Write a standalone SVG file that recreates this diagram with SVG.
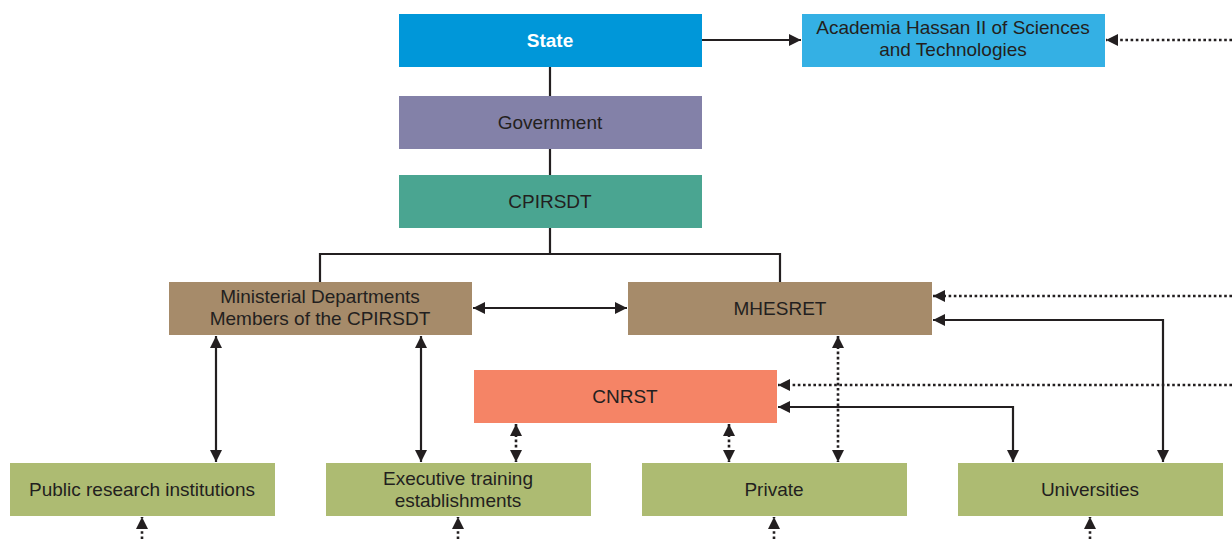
<svg xmlns="http://www.w3.org/2000/svg" width="1232" height="539" viewBox="0 0 1232 539">
<style>
text{font-family:"Liberation Sans",Arial,sans-serif;font-size:19px;fill:#231f20;text-anchor:middle}
.b{font-weight:bold;fill:#fff;font-size:19px}
.s{stroke:#231f20;stroke-width:2.2;fill:none}
.d{stroke:#231f20;stroke-width:2.6;fill:none;stroke-dasharray:2.6 2.6}
</style>
<defs>
<marker id="a" viewBox="0 0 10 10" refX="10" refY="5" markerWidth="12" markerHeight="12" markerUnits="userSpaceOnUse" orient="auto-start-reverse"><path d="M0,0L10,5L0,10z" fill="#231f20"/></marker>
</defs>
<rect width="1232" height="539" fill="#fff"/>
<g id="connectors">
<path class="s" d="M702,40H801" marker-end="url(#a)"/>
<path class="d" d="M1232,40H1106" marker-end="url(#a)"/>
<path class="s" d="M550,67V96M550,149V175M550,228V254M320,282V254H780V282"/>
<path class="s" d="M473,308H627" marker-start="url(#a)" marker-end="url(#a)"/>
<path class="s" d="M216,336V462" marker-start="url(#a)" marker-end="url(#a)"/>
<path class="s" d="M421,336V462" marker-start="url(#a)" marker-end="url(#a)"/>
<path class="d" d="M1232,296H933" marker-end="url(#a)"/>
<path class="s" d="M1163,462V320H933" marker-start="url(#a)" marker-end="url(#a)"/>
<path class="d" d="M1232,385H778" marker-end="url(#a)"/>
<path class="s" d="M1013,462V407H778" marker-start="url(#a)" marker-end="url(#a)"/>
<path class="d" d="M838,336V462" marker-start="url(#a)" marker-end="url(#a)"/>
<path class="d" d="M516,424V462" marker-start="url(#a)" marker-end="url(#a)"/>
<path class="d" d="M729,424V462" marker-start="url(#a)" marker-end="url(#a)"/>
<path class="d" d="M142,539V517" marker-end="url(#a)"/>
<path class="d" d="M458,539V517" marker-end="url(#a)"/>
<path class="d" d="M774,539V517" marker-end="url(#a)"/>
<path class="d" d="M1090,539V517" marker-end="url(#a)"/>
</g>
<g id="state"><rect x="399" y="14" width="303" height="53" fill="#0097d9"/><text class="b" x="550" y="47">State</text></g>
<g id="academia"><rect x="802" y="14" width="303" height="53" fill="#34b0e4"/><text x="953" y="34">Academia Hassan II of Sciences</text><text x="953" y="56">and Technologies</text></g>
<g id="government"><rect x="399" y="96" width="303" height="53" fill="#8381a8"/><text x="550" y="129">Government</text></g>
<g id="cpirsdt"><rect x="399" y="175" width="303" height="53" fill="#4aa591"/><text x="550" y="208">CPIRSDT</text></g>
<g id="ministerial"><rect x="169" y="282" width="303" height="53" fill="#a68b6a"/><text x="320" y="303">Ministerial Departments</text><text x="320" y="325">Members of the CPIRSDT</text></g>
<g id="mhesret"><rect x="628" y="282" width="304" height="53" fill="#a68b6a"/><text x="780" y="315">MHESRET</text></g>
<g id="cnrst"><rect x="474" y="370" width="303" height="53" fill="#f58466"/><text x="625" y="403">CNRST</text></g>
<g id="public"><rect x="10" y="463" width="265" height="53" fill="#adbb72"/><text x="142" y="496">Public research institutions</text></g>
<g id="executive"><rect x="326" y="463" width="265" height="53" fill="#adbb72"/><text x="458" y="485">Executive training</text><text x="458" y="507">establishments</text></g>
<g id="private"><rect x="642" y="463" width="265" height="53" fill="#adbb72"/><text x="774" y="496">Private</text></g>
<g id="universities"><rect x="958" y="463" width="265" height="53" fill="#adbb72"/><text x="1090" y="496">Universities</text></g>
</svg>
